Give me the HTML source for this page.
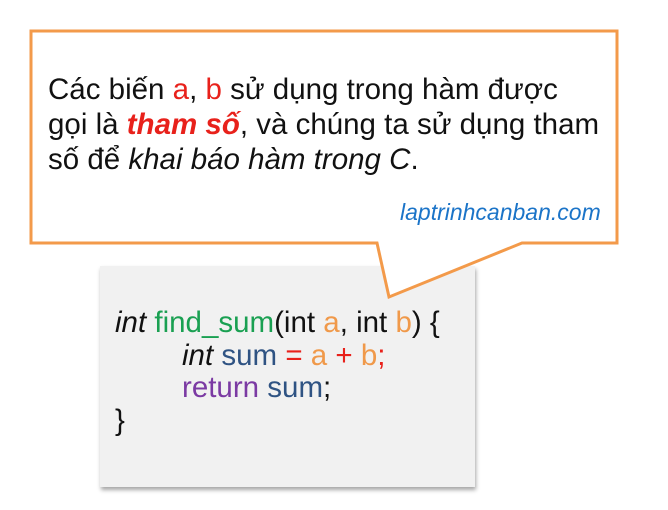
<!DOCTYPE html>
<html><head><meta charset="utf-8"><style>
body{margin:0;width:668px;height:510px;background:#fff;position:relative;overflow:hidden;font-family:"Liberation Sans",sans-serif}
.t{position:absolute;white-space:nowrap;color:#111}
.code{position:absolute;left:100px;top:266px;width:375px;height:221px;background:#f1f1f1;box-shadow:1px 3px 4px rgba(0,0,0,0.35)}
</style></head><body>
<div class="code"></div>
<svg width="668" height="510" style="position:absolute;left:0;top:0">
<path d="M31,31 L617,31 L617,243 L522,243 L389,297 L377,243 L31,243 Z" fill="#fff" stroke="#f39a4a" stroke-width="3" stroke-linejoin="miter"/>
</svg>
<div class="t" style="left:48px;top:72px;font-size:29.5px;line-height:35px">Các biến <span style="color:#e8211b">a</span>, <span style="color:#e8211b">b</span> sử dụng trong hàm được<br>gọi là <b style="color:#e8211b"><i>tham số</i></b>, và chúng ta sử dụng tham<br>số để <i>khai báo hàm trong C</i>.</div>
<div class="t" style="left:400px;top:199px;font-size:23px;color:#1b74c8;font-style:italic">laptrinhcanban.com</div>
<div class="t" style="left:115px;top:307px;font-size:29.5px;line-height:32.5px">
<i>int</i> <span style="color:#1aa052">find_sum</span>(int <span style="color:#f0994a">a</span>, int <span style="color:#f0994a">b</span>) {<br>
<span style="padding-left:67px"></span><i>int</i> <span style="color:#2f5383">sum</span> <span style="color:#e8211b">=</span> <span style="color:#f0994a">a</span> <span style="color:#e8211b">+</span> <span style="color:#f0994a">b</span><span style="color:#e8211b">;</span><br>
<span style="padding-left:67px"></span><span style="color:#7b3aa3">return</span> <span style="color:#2f5383">sum</span>;<br>
}</div>
</body></html>
